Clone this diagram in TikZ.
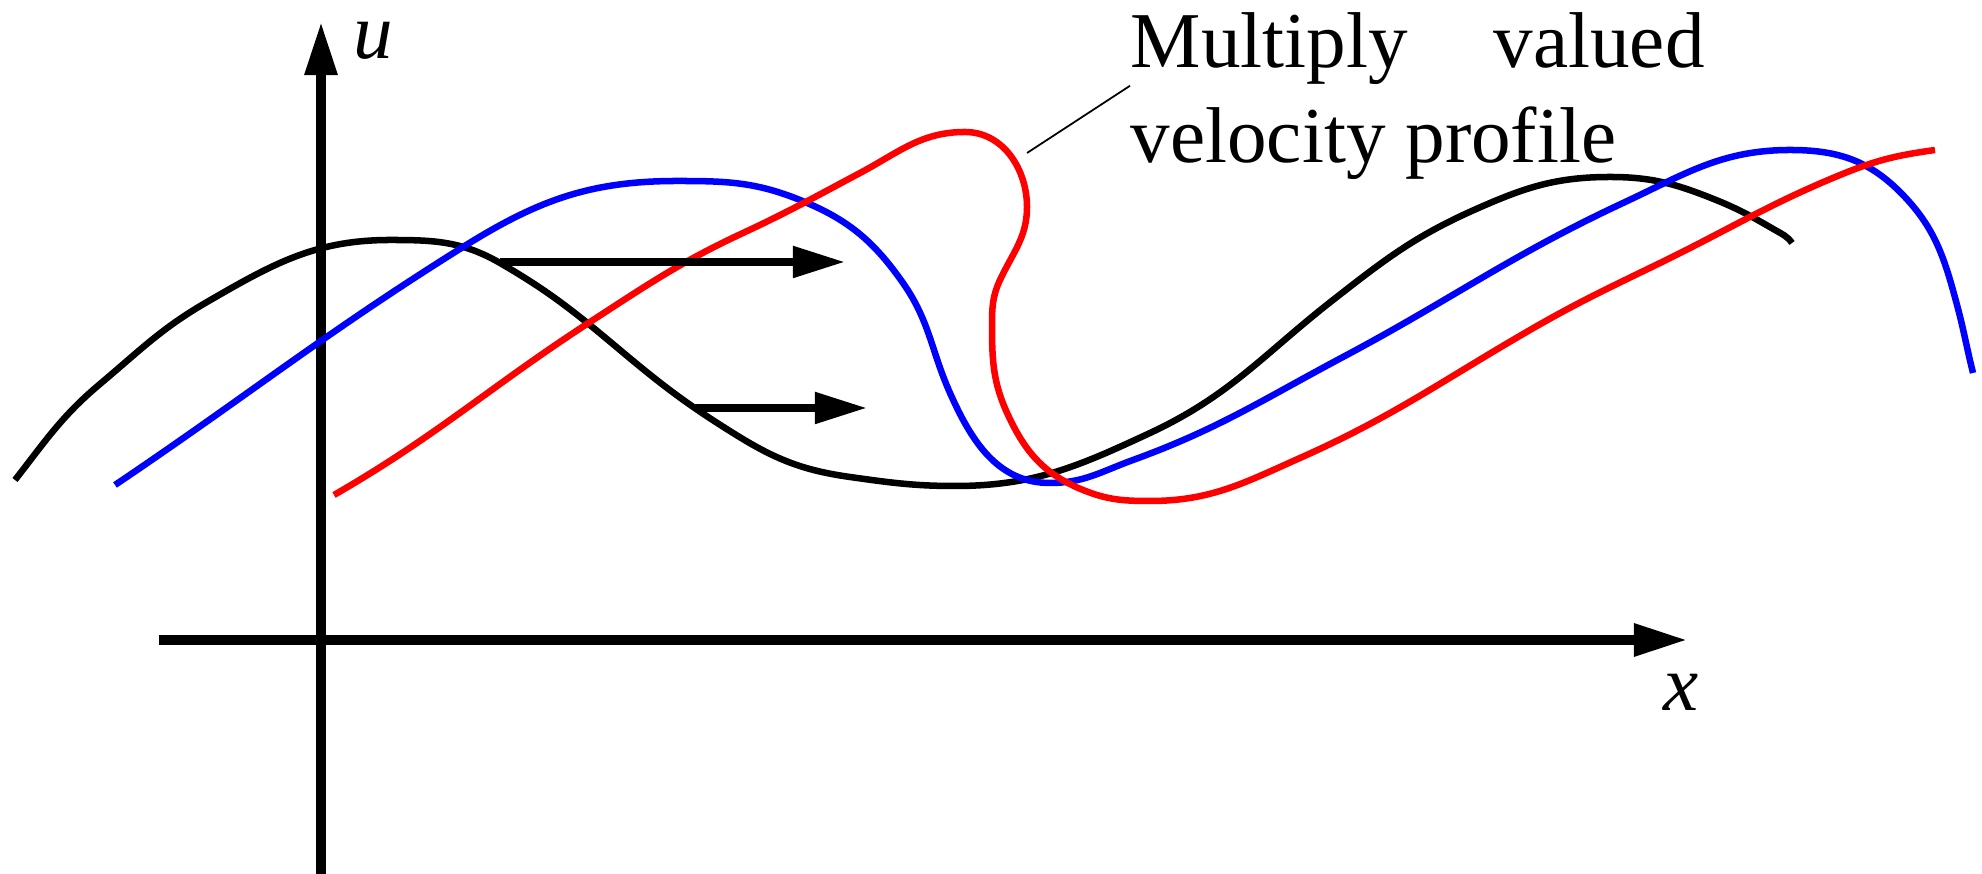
\documentclass[tikz,border=0pt]{standalone}
\usepackage{fontspec}
\setmainfont{Liberation Serif}
\usetikzlibrary{arrows.meta}
\begin{document}
\begin{tikzpicture}[x=0.01cm,y=-0.01cm,
  curve/.style={line width=1.85pt, line join=round},
  axisline/.style={line width=2.6pt, -{Triangle[length=5.3mm,width=3.1mm]}},
  flowarrow/.style={line width=2.3pt, -{Triangle[length=5.2mm,width=3mm]}},
  lbl/.style={inner sep=0pt, font=\fontsize{22.5}{27}\selectfont},
  leader/.style={line width=0.5pt}]
\useasboundingbox (0,0) rectangle (1982,874);
% axes
\coordinate (ub) at (321,874);
\coordinate (ut) at (321,22);
\coordinate (xl) at (159,640);
\coordinate (xr) at (1687,640);
\draw[axisline] (ub) -- (ut);
\draw[axisline] (xl) -- (xr);
\node[lbl] (ulab) at (373,41) {\itshape u};
\node[lbl] (xlab) at (1681,692) {\itshape x};
% black curve
\draw[curve, black] (15,480) to[out=52,in=220] (100,384) to[out=40,in=210] (207,302)
  to[out=30,in=180] (390,240) to[out=0,in=150] (500,263) to[out=-30,in=140] (620,350)
  to[out=-40,in=148] (733,433) to[out=-32,in=172] (850,477) to[out=-8,in=180] (955,486)
  to[out=0,in=205] (1150,433) to[out=25,in=218] (1333,300) to[out=38,in=204] (1474,210)
  to[out=24,in=180] (1610,177) to[out=0,in=158] (1716,200) to[out=-22,in=150] (1775,230)
  to[out=-30,in=125] (1792,243);
% blue curve
\draw[curve, blue] (115,485) to[out=34,in=212] (463,247) to[out=32,in=180] (677,181)
  to[out=0,in=158] (800,200) to[out=-22,in=125] (903,283) to[out=-55,in=114] (950,393)
  to[out=-66,in=180] (1050,483) to[out=0,in=200] (1133,460) to[out=20,in=208] (1343,357)
  to[out=28,in=205] (1623,203) to[out=25,in=180] (1790,150) to[out=0,in=135] (1900,192)
  to[out=-45,in=105] (1957,305) to[out=-75,in=104] (1973,373);
% red curve
\draw[curve, red] (334,495) to[out=30,in=213] (590,322) to[out=33,in=205] (743,233)
  to[out=25,in=208] (860,173) to[out=28,in=180] (965,132) to[out=0,in=90] (1027,207)
  to[out=-90,in=65] (1000,280) to[out=-115,in=90] (992,325) to[out=-90,in=115] (1008,415)
  to[out=-65,in=158] (1083,490) to[out=-22,in=180] (1150,501) to[out=0,in=204] (1300,458)
  to[out=24,in=210] (1530,330) to[out=30,in=206] (1660,263) to[out=26,in=202] (1845,173)
  to[out=22,in=188] (1935,150);
% flow arrows
\coordinate (a1s) at (500,262);
\coordinate (a1e) at (845,262);
\coordinate (a2s) at (695,408);
\coordinate (a2e) at (867,408);
\draw[flowarrow] (a1s) -- (a1e);
\draw[flowarrow] (a2s) -- (a2e);
% label
\node[lbl, anchor=base west] (t1) at (1130,68) {Multiply\hspace{0.86cm}valued};
\node[lbl, anchor=base west] (t2) at (1130,163) {velocity profile};
\coordinate (ld) at (1027,153);
\draw[leader] (ld) -- (t1.south west);
\end{tikzpicture}
\end{document}
